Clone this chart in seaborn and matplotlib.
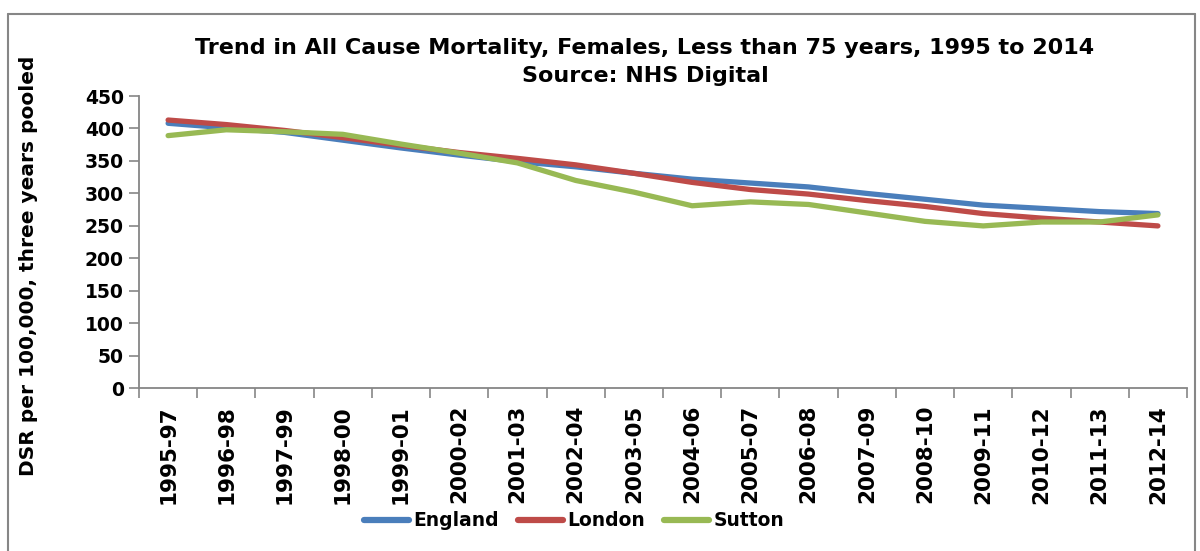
import matplotlib
matplotlib.use("Agg")
import matplotlib.pyplot as plt
from matplotlib.lines import Line2D
import seaborn as sns
import pandas as pd

periods = ["1995-97", "1996-98", "1997-99", "1998-00", "1999-01", "2000-02",
           "2001-03", "2002-04", "2003-05", "2004-06", "2005-07", "2006-08",
           "2007-09", "2008-10", "2009-11", "2010-12", "2011-13", "2012-14"]
england = [408, 401, 394, 382, 370, 359, 349, 341, 331, 322, 316, 310, 300, 291, 282, 277, 272, 269]
london = [413, 406, 397, 386, 374, 363, 354, 344, 331, 317, 306, 299, 289, 280, 269, 262, 256, 250]
sutton = [389, 398, 395, 391, 376, 362, 347, 320, 302, 281, 287, 283, 270, 257, 250, 256, 256, 267]
series_names = ["England", "London", "Sutton"]
colors = ["#4A7EBB", "#BE4B48", "#98B954"]

title = "Trend in All Cause Mortality, Females, Less than 75 years, 1995 to 2014\nSource: NHS Digital"
ylabel = "DSR per 100,000, three years pooled"
yticks = [0, 50, 100, 150, 200, 250, 300, 350, 400, 450]

rows = []
for name, vals in zip(series_names, [england, london, sutton]):
    for i, (p, v) in enumerate(zip(periods, vals)):
        rows.append({"idx": i, "period": p, "value": v, "series": name})
df = pd.DataFrame(rows)

sns.set_style("white")
plt.rcParams["font.family"] = ["DejaVu Sans"]
plt.rcParams["font.weight"] = "bold"
plt.rcParams["text.color"] = "black"
plt.rcParams["axes.labelcolor"] = "black"
plt.rcParams["xtick.color"] = "black"
plt.rcParams["ytick.color"] = "black"

fig = plt.figure(figsize=(12, 5.51), dpi=100)
ax = fig.add_axes([139 / 1200, 1 - 388.3 / 551, (1187 - 139) / 1200, (388.3 - 96) / 551])

sns.lineplot(data=df, x="idx", y="value", hue="series", hue_order=series_names,
             palette=colors, linewidth=3.8, ax=ax, legend=False,
             solid_capstyle="round", solid_joinstyle="round")

ax.set_xlim(-0.5, len(periods) - 0.5)
ax.set_ylim(0, 450)
ax.set_yticks(yticks)
ax.set_yticklabels([str(t) for t in yticks], fontsize=13.5, fontweight="bold", color="black")
ax.set_xticks(range(len(periods)))
ax.set_xticklabels(periods, rotation=90, fontsize=15.5, fontweight="bold", color="black")
ax.set_xticks([i - 0.5 for i in range(len(periods) + 1)], minor=True)
ax.tick_params(axis="x", which="major", length=0, pad=12, bottom=True)
ax.tick_params(axis="x", which="minor", length=7, width=1.2, color="#868686",
               direction="out", bottom=True)
ax.tick_params(axis="y", which="major", length=7, width=1.2, color="#868686",
               direction="out", pad=4, left=True, labelcolor="black")
ax.set_xlabel("")
ax.set_ylabel(ylabel, fontsize=14.5, fontweight="bold", color="black")
ax.yaxis.set_label_coords(-0.096, 0.42)
for s in ["top", "right"]:
    ax.spines[s].set_visible(False)
for s in ["left", "bottom"]:
    ax.spines[s].set_color("#868686")
    ax.spines[s].set_linewidth(1.3)
ax.grid(False)

fig.text(645 / 1200, 1 - 62 / 551, title, ha="center", va="center",
         fontsize=16, fontweight="bold", linespacing=1.5, color="black")

handles = [Line2D([0], [0], color=c, lw=4.5, solid_capstyle="round") for c in colors]
fig.legend(handles, series_names, loc="center", bbox_to_anchor=(574 / 1200, 1 - 521 / 551),
           ncol=3, frameon=False, handlelength=2.4, handletextpad=0.25,
           columnspacing=1.0, prop={"weight": "bold", "size": 13.5}, labelcolor="black")

# outer chart border
border_kw = dict(color="#868686", lw=1.5, transform=fig.transFigure)
x0, x1, yt = 8 / 1200, 1195 / 1200, 1 - 14 / 551
fig.add_artist(Line2D([x0, x0], [0, yt], **border_kw))
fig.add_artist(Line2D([x0, x1], [yt, yt], **border_kw))
fig.add_artist(Line2D([x1, x1], [0, yt], **border_kw))

fig.savefig("out.png", dpi=100)
